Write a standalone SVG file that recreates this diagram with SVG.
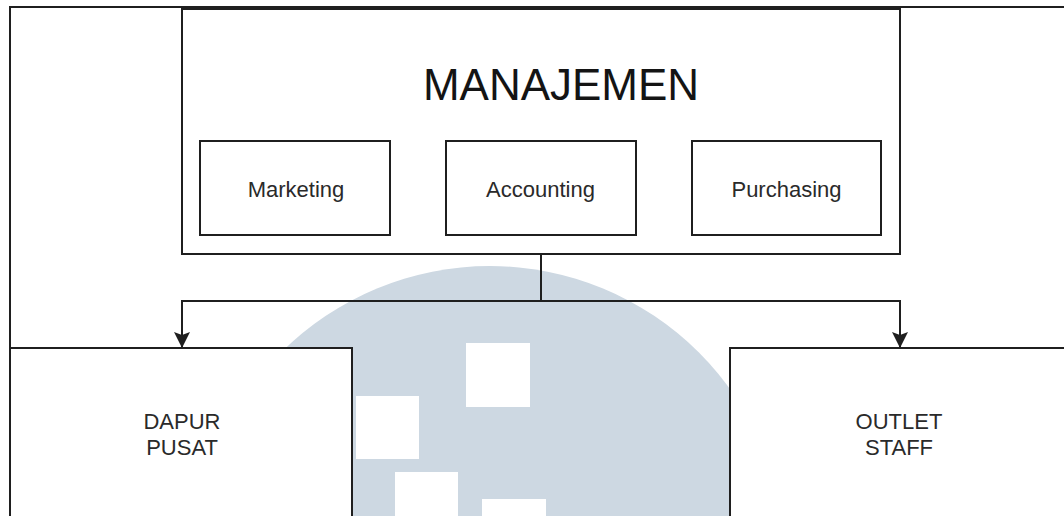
<svg xmlns="http://www.w3.org/2000/svg" width="1064" height="516" viewBox="0 0 1064 516">
  <style>
    .box { fill: #ffffff; stroke: #1f1f1f; stroke-width: 2; }
    .frame { fill: none; stroke: #1f1f1f; stroke-width: 2; }
    .wire { fill: none; stroke: #1f1f1f; stroke-width: 2; }
    .lbl { font-family: "Liberation Sans", Arial, Helvetica, sans-serif; font-size: 22px; fill: #2a2a2a; text-anchor: middle; }
    .title { font-family: "Liberation Sans", Arial, Helvetica, sans-serif; font-size: 44px; fill: #141414; text-anchor: middle; }
    .mark { fill: #cdd8e2; }
    .tile { fill: #ffffff; }
  </style>
  <defs>
    <!-- filled block arrowhead with a shallow notch, tip at the line end -->
    <marker id="arrow" markerUnits="userSpaceOnUse" markerWidth="16" markerHeight="16" viewBox="0 0 16 16" refX="16" refY="8" orient="auto">
      <path d="M 0,0 L 16,8 L 0,16 L 3,8 Z" fill="#1f1f1f"/>
    </marker>
  </defs>

  <rect width="1064" height="516" fill="#ffffff"/>

  <!-- background seal -->
  <g id="seal">
    <circle class="mark" cx="490" cy="561.5" r="295.5"/>
    <rect class="tile" x="466" y="343" width="64" height="64"/>
    <rect class="tile" x="356" y="396" width="63" height="63"/>
    <rect class="tile" x="395" y="472" width="63" height="63"/>
    <rect class="tile" x="482" y="499" width="64" height="64"/>
  </g>

  <!-- outer frame -->
  <g id="frame">
    <rect class="frame" x="10" y="7" width="1100" height="560"/>
  </g>

  <!-- connectors -->
  <g id="connectors">
    <path class="wire" d="M 541,254 L 541,301"/>
    <path class="wire" d="M 541,301 L 182,301 L 182,348" marker-end="url(#arrow)"/>
    <path class="wire" d="M 541,301 L 900,301 L 900,348" marker-end="url(#arrow)"/>
  </g>

  <g id="manajemen">
    <rect class="box" x="182" y="9" width="718" height="245"/>
    <text class="title" x="561" y="100">MANAJEMEN</text>
  </g>

  <g id="marketing">
    <rect class="box" x="200" y="141" width="190" height="94"/>
    <text class="lbl" x="296" y="196.5">Marketing</text>
  </g>

  <g id="accounting">
    <rect class="box" x="446" y="141" width="190" height="94"/>
    <text class="lbl" x="540.5" y="196.5">Accounting</text>
  </g>

  <g id="purchasing">
    <rect class="box" x="692" y="141" width="189" height="94"/>
    <text class="lbl" x="786.5" y="197">Purchasing</text>
  </g>

  <g id="dapur-pusat">
    <rect class="box" x="10" y="348" width="342" height="220"/>
    <text class="lbl" x="182" y="429">DAPUR</text>
    <text class="lbl" x="182" y="455">PUSAT</text>
  </g>

  <g id="outlet-staff">
    <rect class="box" x="730" y="348" width="342" height="220"/>
    <text class="lbl" x="899" y="429">OUTLET</text>
    <text class="lbl" x="899" y="455">STAFF</text>
  </g>
</svg>
